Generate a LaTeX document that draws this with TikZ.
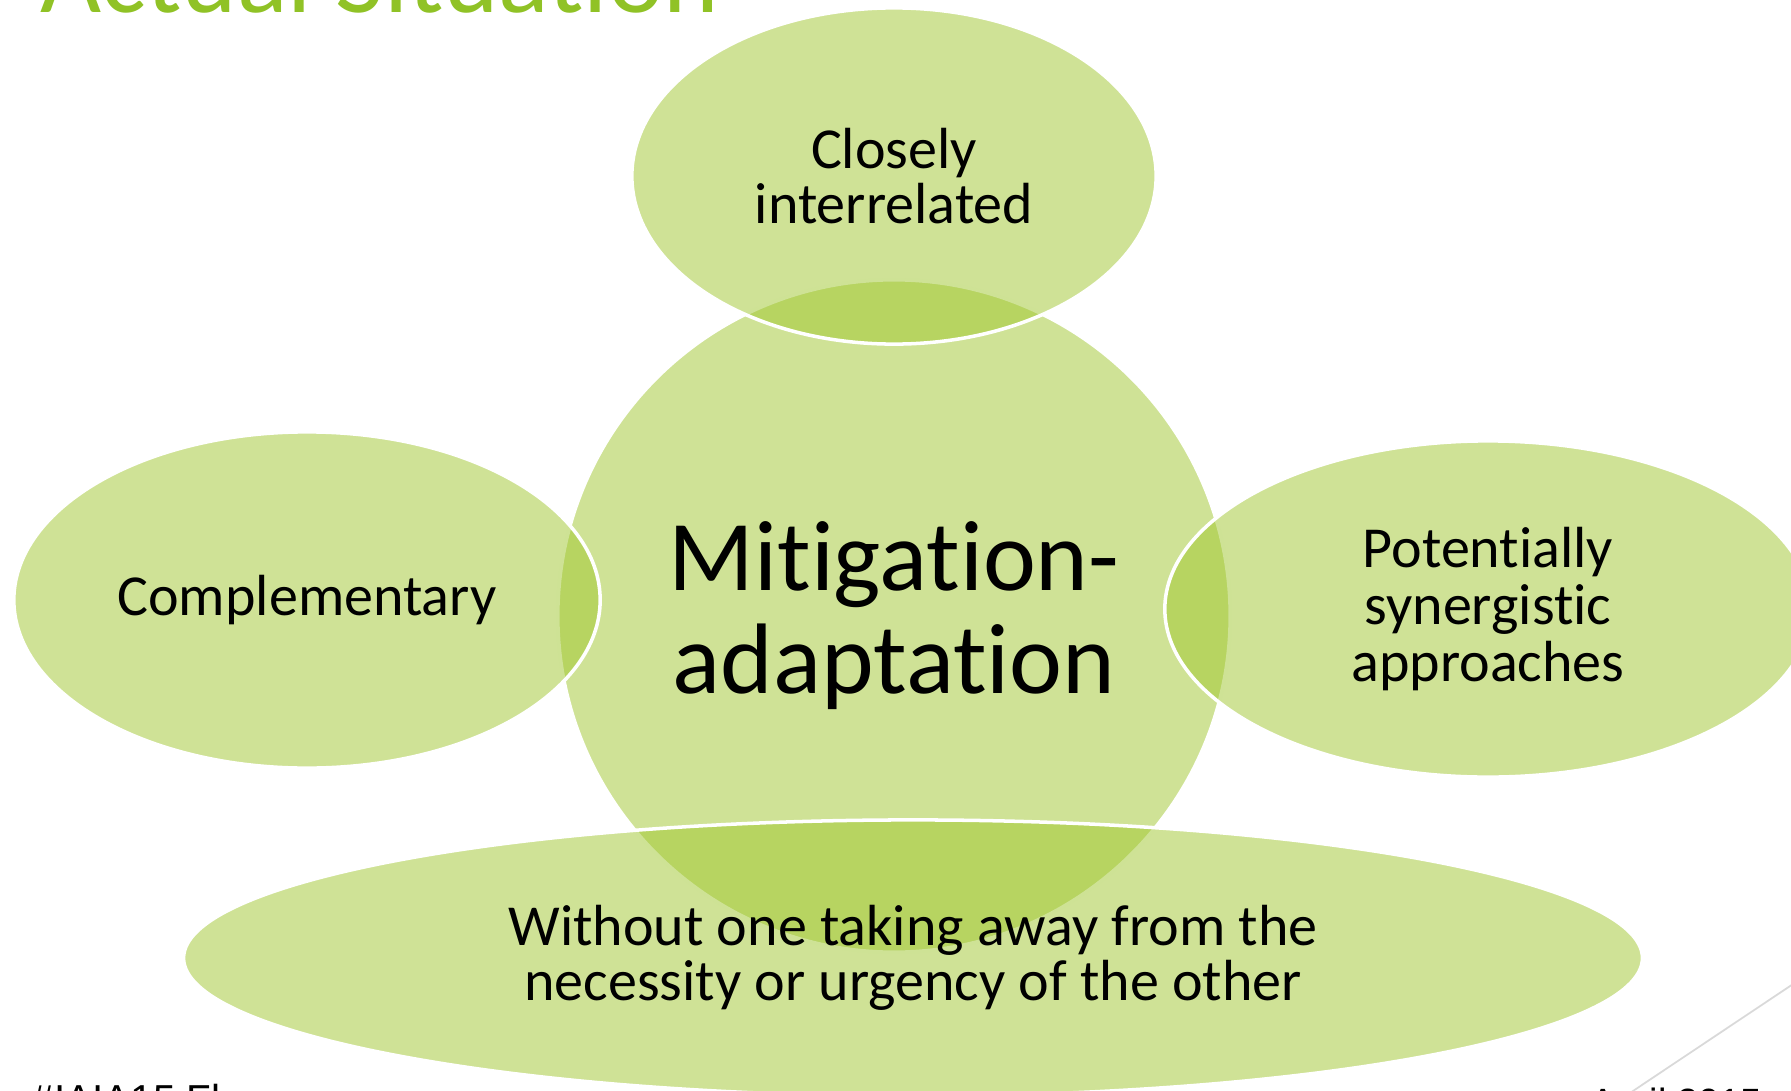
\documentclass[tikz,border=0pt]{standalone}
\usepackage{fontspec}
\setmainfont{Carlito}[Ligatures=NoCommon]
\newfontfamily\footfont{Liberation Sans}
\usetikzlibrary{shapes.geometric}
\definecolor{venngreen}{RGB}{159,198,45}
\definecolor{titlegreen}{HTML}{90C226}
\definecolor{decogray}{HTML}{D9D9D9}

\begin{document}
\begin{tikzpicture}[x=0.01cm,y=-0.01cm,
	bubble/.style={ellipse, fill=venngreen, fill opacity=0.5, text opacity=1,
		draw=white, line width=1pt, inner sep=0pt, align=center,
		font=\fontsize{16.5}{15.6}\selectfont}]

	% Page
	\useasboundingbox (0,0) rectangle (1791,1091);
	\clip (0,0) rectangle (1791,1091);

	% Title, cut off at the top
	\node[anchor=base west, inner sep=0pt, text=titlegreen,
		font=\fontsize{30}{36}\selectfont] (title) at (40,13) {Actual Situation};

	% Centre circle
	\node[bubble, circle, minimum size=6.72cm,
		font=\fontsize{28.5}{29.3}\selectfont] (core) at (894,616) {Mitigation-\\adaptation};

	% Top ellipse
	\node[bubble, minimum width=5.24cm, minimum height=3.36cm] (top) at (894,176) {Closely\\interrelated};

	% Left ellipse
	\node[bubble, minimum width=5.86cm, minimum height=3.36cm] (left) at (307,600) {Complementary};

	% Right ellipse
	\node[bubble, minimum width=6.46cm, minimum height=3.36cm,
		font=\fontsize{16.5}{16.2}\selectfont] (right) at (1488,609) {Potentially\\synergistic\\approaches};

	% Bottom ellipse
	\node[bubble, minimum width=14.58cm, minimum height=2.76cm] (bottom) at (913,958) {Without one taking away from the\\necessity or urgency of the other};

	% Footer, cut off at the bottom
	\node[anchor=base west, inner sep=0pt, font=\footfont\fontsize{11.5}{14}\selectfont] (event) at (31,1113) {\#IAIA15 Florence};
	\node[anchor=base west, inner sep=0pt, font=\footfont\fontsize{10.8}{13}\selectfont] (date) at (1590,1115) {April 2015};

	% Corner line
	\draw[decogray, line width=0.5pt] (1850,946) -- (1600,1113);

\end{tikzpicture}
\end{document}
